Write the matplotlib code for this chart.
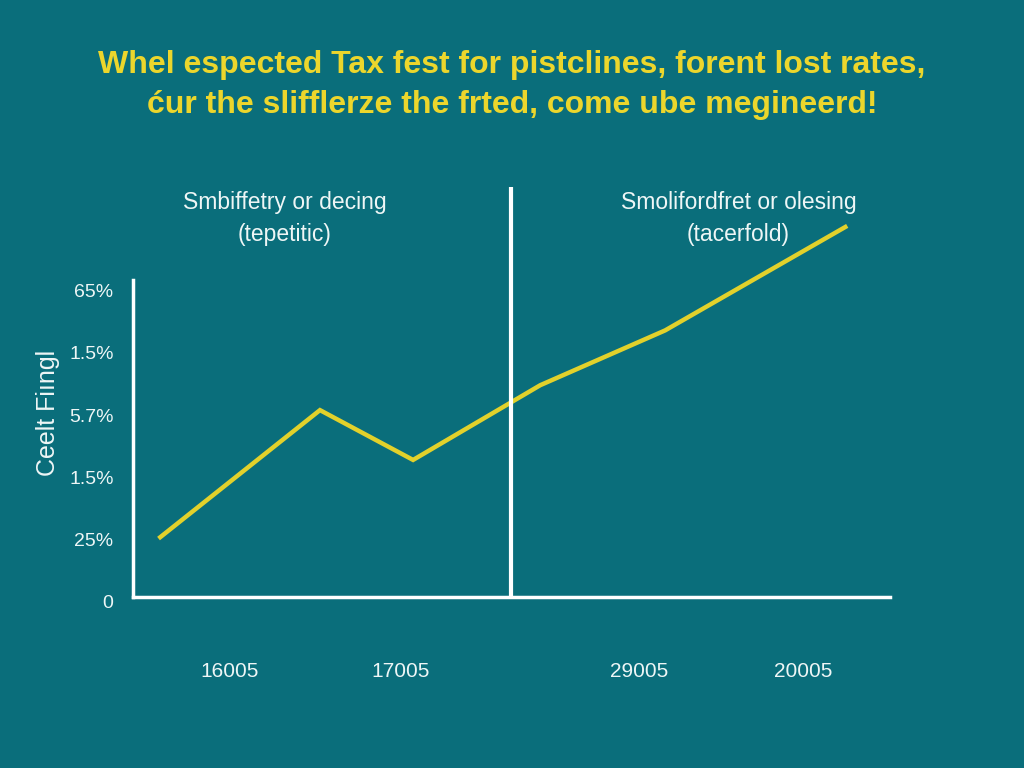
import matplotlib
matplotlib.use('Agg')
import matplotlib.pyplot as plt
import matplotlib.transforms as mtransforms

plt.rcParams['font.family'] = ['Liberation Sans', 'DejaVu Sans']

# 数据
x_vals = [0.36, 2.47, 3.70, 5.38, 7.03, 9.41]
y_vals = [0.96, 3.00, 2.20, 3.40, 4.28, 5.94]
y_ticks = [0, 1, 2, 3, 4, 5]
y_labels = ['0', '25%', '1.5%', '5.7%', '1.5%', '65%']
x_ticks = [1.27, 3.54, 6.68, 8.85]
x_labels = ['16005', '17005', '29005', '20005']
divider_x = 5.0

title = ('Whel espected Tax fest for pistclines, forent lost rates,\n'
         'ćur the slifflerze the frted, come ube megineerd!')
left_note = 'Smbiffetry or decing\n(tepetitic)'
right_note = 'Smolifordfret or olesing\n(tacerfold)'

bg = '#0a6e7b'
yellow = '#ecd62c'
line_col = '#e2d12b'
txt = '#eef6f6'

fig = plt.figure(figsize=(10.24, 7.68), dpi=100, facecolor=bg)
ax = fig.add_axes([0.1299, 0.2227, 0.7392, 0.5677])
ax.set_facecolor(bg)
ax.set_xlim(0, 10)
ax.set_ylim(0, 7)

ax.plot(x_vals, y_vals, color=line_col, lw=3.2, solid_joinstyle='miter', clip_on=False)
ax.plot([divider_x, divider_x], [0, 6.58], color='white', lw=3, solid_capstyle='butt')

for s in ['top', 'right']:
    ax.spines[s].set_visible(False)
ax.spines['left'].set_bounds(0, 5.09)
for s in ['left', 'bottom']:
    ax.spines[s].set_color('white')
    ax.spines[s].set_linewidth(2.5)

ax.set_yticks(y_ticks)
ax.set_yticklabels(y_labels, fontsize=14, color=txt)
ax.tick_params(axis='y', length=0, pad=14)
# 刻度标签稍微下移
shift = mtransforms.ScaledTranslation(0, -5 / 100, fig.dpi_scale_trans)
for lbl in ax.get_yticklabels():
    lbl.set_transform(lbl.get_transform() + shift)
ax.set_xticks(x_ticks)
ax.set_xticklabels(x_labels, fontsize=15, color=txt)
ax.tick_params(axis='x', length=0, pad=47)

ax.set_ylabel('Ceelt Fiıngl', fontsize=18, color=txt)
ax.yaxis.set_label_coords(-0.096, 0.422)

fig.text(0.5, 0.889, title, ha='center', va='center', fontsize=23,
         fontweight='bold', color=yellow, linespacing=1.45)

ax.text(2.0, 6.08, left_note, ha='center', va='center', fontsize=16.5,
        color=txt, linespacing=1.5)
ax.text(8.0, 6.08, right_note, ha='center', va='center', fontsize=16.5,
        color=txt, linespacing=1.5)

fig.savefig('out.png', dpi=100, facecolor=bg)
